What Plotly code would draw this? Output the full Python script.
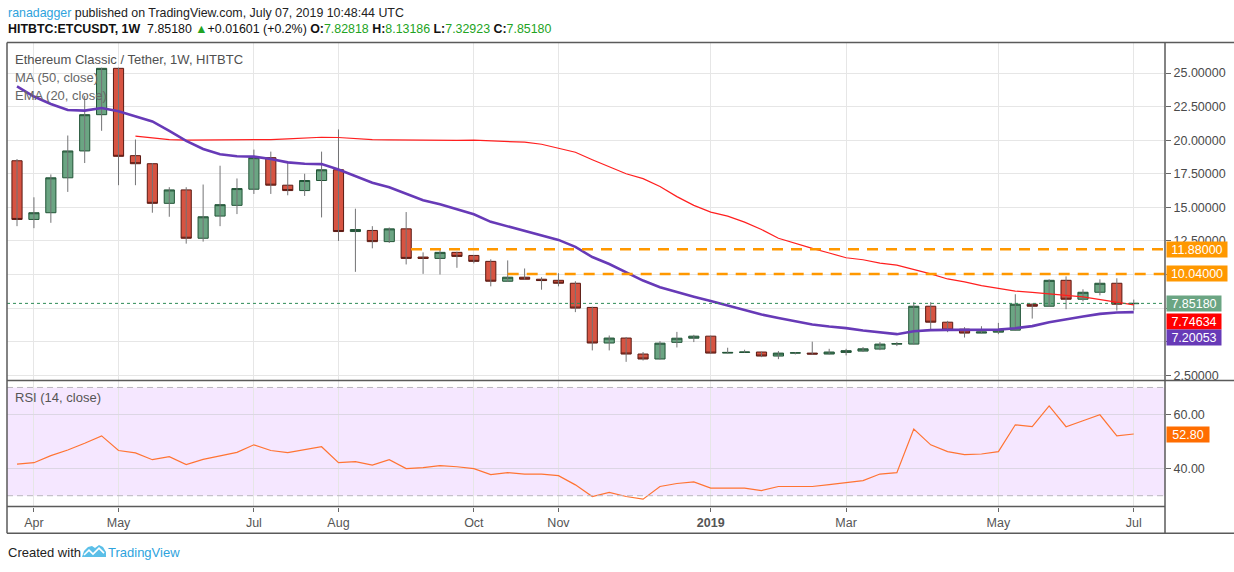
import plotly.graph_objects as go
import pandas as pd

W, H = 1234, 572

# ---------------- data ----------------
first_week = "2018-03-26"

open_ = [18.47, 14.1, 14.6, 17.2, 19.2, 21.9, 25.35, 18.85, 18.25, 15.3,
         16.3, 12.7, 14.35, 15.15, 16.35, 18.7, 16.65, 16.25, 17.0, 17.8,
         13.2, 13.28, 12.45, 13.4, 11.3, 11.2, 11.65, 11.42, 10.98, 9.5,
         9.8, 9.65, 9.57, 9.35, 7.55, 4.9, 5.27, 4.08, 3.71, 4.95,
         5.26, 5.41, 4.15, 4.2, 4.23, 3.93, 4.15, 4.15, 4.08, 4.2,
         4.3, 4.45, 4.82, 4.82, 7.64, 6.45, 5.93, 5.64, 5.71, 5.86,
         7.79, 7.64, 9.57, 8.16, 8.68, 9.35, 7.82818]
high = [18.6, 15.75, 17.45, 20.35, 23.3, 25.4, 25.4, 20.05, 18.3, 16.5,
        16.5, 16.7, 18.1, 17.15, 19.3, 19.15, 18.45, 17.5, 19.15, 20.8,
        14.9, 13.6, 13.5, 14.65, 11.65, 11.95, 11.7, 11.45, 11.13, 11.05,
        10.45, 9.8, 10.1, 9.5, 7.6, 5.46, 5.35, 4.23, 5.04, 5.73,
        5.51, 5.45, 4.55, 4.4, 4.25, 4.3, 4.23, 5.0, 4.47, 4.47,
        4.6, 4.97, 4.97, 7.94, 7.94, 6.55, 6.08, 6.15, 6.4, 8.53,
        7.85, 9.65, 9.86, 8.9, 9.64, 9.72, 8.13186]
low = [13.6, 13.45, 13.85, 16.15, 18.3, 20.7, 16.65, 16.65, 14.6, 14.3,
       12.3, 12.45, 13.6, 14.5, 16.0, 16.0, 15.9, 15.85, 14.25, 12.5,
       10.2, 11.95, 12.35, 10.75, 10.05, 10.0, 10.5, 10.83, 9.12, 9.45,
       9.6, 8.87, 9.12, 7.2, 4.35, 4.35, 3.5, 3.6, 3.68, 4.57,
       4.97, 4.1, 4.12, 4.18, 3.85, 3.7, 4.05, 4.05, 4.05, 3.98,
       4.23, 4.37, 4.67, 4.8, 5.88, 5.71, 5.31, 5.62, 5.56, 5.8,
       6.72, 7.6, 7.42, 8.0, 8.45, 7.32, 7.32923]
close = [14.1, 14.6, 17.2, 19.2, 21.9, 25.35, 18.8, 18.25, 15.3, 16.3,
         12.7, 14.3, 15.2, 16.4, 18.7, 16.65, 16.25, 17.0, 17.8, 13.2,
         13.35, 12.45, 13.4, 11.2, 11.2, 11.65, 11.35, 10.98, 9.5, 9.8,
         9.65, 9.55, 9.35, 7.5, 4.9, 5.27, 4.08, 3.71, 4.89, 5.26,
         5.41, 4.15, 4.2, 4.23, 3.93, 4.15, 4.17, 4.08, 4.23, 4.33,
         4.47, 4.82, 4.85, 7.64, 6.45, 5.86, 5.64, 5.73, 5.86, 7.79,
         7.64, 9.57, 8.16, 8.68, 9.35, 7.79, 7.8518]

ma50 = [None, None, None, None, None, None, None, 20.3, 20.15, 20.05,
        20.0, 20.0, 20.0, 20.0, 20.03, 20.05, 20.1, 20.15, 20.22, 20.2,
        20.1, 20.05, 20.02, 20.0, 20.0, 19.98, 19.98, 20.0, 19.95, 19.9,
        19.85, 19.7, 19.4, 19.1, 18.55, 18.0, 17.5, 17.14, 16.55, 15.8,
        15.15, 14.65, 14.35, 13.9, 13.35, 12.7, 12.3, 11.95, 11.6, 11.25,
        11.1, 10.85, 10.7, 10.4, 10.05, 9.67, 9.45, 9.17, 8.95, 8.77,
        8.67, 8.58, 8.45, 8.33, 8.15, 7.95, 7.74634]
ema20 = [24.0, 23.25, 22.7, 22.25, 22.2, 22.4, 22.15, 21.8, 21.4, 20.7,
         19.95, 19.35, 18.95, 18.8, 18.78, 18.6, 18.35, 18.25, 18.22, 17.82,
         17.3, 16.84, 16.5, 16.04, 15.53, 15.23, 14.86, 14.49, 13.92, 13.58,
         13.25, 12.88, 12.58, 12.06, 11.3, 10.78, 10.18, 9.55, 9.05, 8.68,
         8.35, 8.03, 7.69, 7.37, 7.02, 6.77, 6.53, 6.28, 6.13, 6.01,
         5.83, 5.68, 5.56, 5.78, 5.86, 5.88, 5.88, 5.88, 5.9, 6.0,
         6.16, 6.45, 6.68, 6.88, 7.07, 7.17, 7.20053]
rsi14 = [41.7, 42.2, 44.8, 46.9, 49.4, 52.1, 46.7, 45.8, 43.3, 44.4,
         41.5, 43.4, 44.7, 46.0, 48.8, 46.7, 45.9, 47.1, 48.1, 42.2,
         42.6, 41.3, 43.3, 40.0, 40.4, 41.1, 40.7, 40.0, 37.8, 38.5,
         38.0, 38.0, 37.4, 34.0, 29.7, 31.2, 29.7, 28.7, 33.4, 34.5,
         35.1, 32.8, 32.8, 32.8, 31.9, 33.4, 33.4, 33.4, 34.1, 34.8,
         35.6, 38.0, 38.5, 54.6, 48.8, 46.3, 45.2, 45.4, 46.3, 56.2,
         55.5, 63.2, 55.5, 57.7, 59.9, 52.1, 52.8]

month_ticks = ["2018-04-02", "2018-05-07", "2018-07-02", "2018-08-06", "2018-10-01",
               "2018-11-05", "2019-01-07", "2019-03-04", "2019-05-06", "2019-07-01"]
month_labels = ["Apr", "May", "Jul", "Aug", "Oct", "Nov", "2019", "Mar", "May", "Jul"]
price_ticks = [2.5, 5.0, 7.5, 10.0, 12.5, 15.0, 17.5, 20.0, 22.5, 25.0]
rsi_ticks = [40, 60]
rsi_bands = [30, 70]
resistance_levels = [11.88, 10.04]
resistance_start = ["2018-09-05", "2018-10-15"]

# ---------------- helpers ----------------
FONT = "Liberation Sans, Arial, sans-serif"
GREEN, GREEN_LN = "#6ba583", "#225437"
RED, RED_LN = "#d75442", "#5b1a13"
WICK = "#737375"
ORANGE = "#ff9800"
PURPLE = "#673ab7"
FRAME = "#5a5a5a"
GRID = "#e6e6e6"


def px(x):
    return x / W


def py(y):
    return 1 - y / H


dates = pd.date_range(first_week, periods=len(close), freq="7D")
x_lo = dates[0] - pd.Timedelta(days=4.14)
x_hi = dates[0] + pd.Timedelta(days=474.93)

fig = go.Figure()

# wicks
wx, wy = [], []
for d, lo_, hi_ in zip(dates, low, high):
    wx += [d, d, None]
    wy += [lo_, hi_, None]
fig.add_trace(go.Scatter(x=wx, y=wy, mode="lines", line=dict(color=WICK, width=1),
                         hoverinfo="skip", showlegend=False, xaxis="x", yaxis="y"))

# candle bodies
body_hi = [max(o, c) for o, c in zip(open_, close)]
body_lo = [min(o, c) for o, c in zip(open_, close)]
fig.add_trace(go.Candlestick(
    x=dates, open=open_, high=body_hi, low=body_lo, close=close,
    increasing=dict(fillcolor=GREEN, line=dict(color=GREEN_LN, width=1)),
    decreasing=dict(fillcolor=RED, line=dict(color=RED_LN, width=1)),
    whiskerwidth=0, showlegend=False, xaxis="x", yaxis="y"))

# moving averages
fig.add_trace(go.Scatter(x=dates, y=ma50, mode="lines", line=dict(color="#ff1f1f", width=1.2),
                         showlegend=False, xaxis="x", yaxis="y"))
fig.add_trace(go.Scatter(x=dates, y=ema20, mode="lines", line=dict(color=PURPLE, width=2.6),
                         showlegend=False, xaxis="x", yaxis="y"))

# resistance lines
for lvl, st in zip(resistance_levels, resistance_start):
    fig.add_trace(go.Scatter(x=[st, x_hi], y=[lvl, lvl], mode="lines",
                             line=dict(color=ORANGE, width=2.6, dash="11px,8px"),
                             showlegend=False, xaxis="x", yaxis="y"))

# last close dotted line
fig.add_trace(go.Scatter(x=[x_lo, x_hi], y=[close[-1], close[-1]], mode="lines",
                         line=dict(color="#2e8b57", width=1, dash="dot"),
                         showlegend=False, xaxis="x", yaxis="y"))

# RSI
fig.add_trace(go.Scatter(x=dates, y=rsi14, mode="lines", line=dict(color="#ff7433", width=1.2),
                         showlegend=False, xaxis="x2", yaxis="y2"))

# price tick labels hidden behind the value boxes in the reference
hidden = {10.0, 7.5, 5.0}
price_text = ["" if t in hidden else "%.5f" % t for t in price_ticks]

xdom = [px(7), px(1165)]
fig.update_layout(
    width=W, height=H,
    margin=dict(l=0, r=0, t=0, b=0),
    paper_bgcolor="white", plot_bgcolor="white",
    font=dict(family=FONT, size=12, color="#4a4a4a"),
    boxgap=0.4, boxgroupgap=0,
    hovermode=False,
    xaxis=dict(domain=xdom, range=[x_lo, x_hi], type="date", anchor="y",
               tickvals=month_ticks, showticklabels=False, ticks="",
               showgrid=True, gridcolor=GRID, gridwidth=1, zeroline=False,
               showline=False, rangeslider=dict(visible=False), fixedrange=True),
    yaxis=dict(domain=[py(381.7), py(42.7)], range=[2.12, 27.27], side="right", anchor="x",
               tickvals=price_ticks, ticktext=price_text, ticks="outside", ticklen=5,
               tickcolor="#666", tickfont=dict(size=12.5, color="#4a4a4a"),
               showgrid=True, gridcolor=GRID, zeroline=False, showline=False),
    xaxis2=dict(domain=xdom, range=[x_lo, x_hi], type="date", anchor="y2",
                tickvals=month_ticks,
                ticktext=["<b>%s</b>" % t if t.isdigit() else t for t in month_labels],
                ticks="outside", ticklen=4, tickcolor="#666",
                tickfont=dict(size=12.5, color="#555"),
                showgrid=True, gridcolor=GRID, zeroline=False, showline=False),
    yaxis2=dict(domain=[py(508.3), py(382.3)], range=[26.0, 72.4], side="right", anchor="x2",
                tickvals=rsi_ticks, tickformat=".2f", ticks="outside", ticklen=5,
                tickcolor="#666", tickfont=dict(size=12.5, color="#4a4a4a"),
                showgrid=True, gridcolor="#dcd6e4", zeroline=False, showline=False),
)

shapes = []
# RSI band
shapes.append(dict(type="rect", xref="x2 domain", yref="y2", x0=0, x1=1,
                   y0=rsi_bands[0], y1=rsi_bands[1], fillcolor="rgba(153,21,255,0.1)",
                   line=dict(width=0), layer="below"))
for b in rsi_bands:
    shapes.append(dict(type="line", xref="x2 domain", yref="y2", x0=0, x1=1, y0=b, y1=b,
                       line=dict(color="#b9b6bf", width=1, dash="6px,4px")))
# frame
frame = [
    (7, 42.7, 1234, 42.7), (7, 42.7, 7, 535), (7, 535, 1234, 535),
    (1165, 42.7, 1165, 535), (7, 381.9, 1234, 381.9), (7, 508.3, 1165, 508.3),
]
for x0, y0, x1, y1 in frame:
    shapes.append(dict(type="line", xref="paper", yref="paper",
                       x0=px(x0), y0=py(y0), x1=px(x1), y1=py(y1),
                       line=dict(color=FRAME, width=1.5)))
# TradingView logo (approximate)
cloud = [(82, 559), (84, 553), (88, 549), (92, 548), (95, 550), (99, 547), (103, 549),
         (106, 554), (106, 559)]
path = "M " + " L ".join("%f,%f" % (px(a), py(b)) for a, b in cloud) + " Z"
shapes.append(dict(type="path", xref="paper", yref="paper", path=path,
                   fillcolor="#5bbfe8", line=dict(width=0)))
zig = [(84, 557), (89, 552), (93, 556), (99, 550), (104, 555)]
zpath = "M " + " L ".join("%f,%f" % (px(a), py(b)) for a, b in zig)
shapes.append(dict(type="path", xref="paper", yref="paper", path=zpath,
                   line=dict(color="white", width=1.6)))
fig.update_layout(shapes=shapes)

ann = []


def text(x, y, s, size=12.4, color="#333", anchor="left"):
    ann.append(dict(xref="paper", yref="paper", x=px(x), y=py(y), text=s, showarrow=False,
                    xanchor=anchor, yanchor="middle", align="left",
                    font=dict(family=FONT, size=size, color=color)))


up = "#22a322"
text(6, 13, "<span style='color:#2ea3dd'>ranadagger</span> published on TradingView.com, "
            "July 07, 2019 10:48:44 UTC", size=12.4, color="#222")
text(6, 29, "<b>HITBTC:ETCUSDT, 1W</b>  %.5f <span style='color:%s'>▲</span>+0.01601 (+0.2%%) "
            "<b>O:</b><span style='color:%s'>%.5f</span> <b>H:</b><span style='color:%s'>%.5f</span> "
            "<b>L:</b><span style='color:%s'>%.5f</span> <b>C:</b><span style='color:%s'>%.5f</span>"
     % (close[-1], up, up, open_[-1], up, high[-1], up, low[-1], up, close[-1]),
     size=12.4, color="#111")
text(13, 60, "Ethereum Classic / Tether, 1W, HITBTC", size=13, color="#505050")
text(13, 78, "MA (50, close)", size=13, color="#666")
text(13, 96, "EMA (20, close)", size=13, color="#666")
text(13, 399, "RSI (14, close)", size=13, color="#555")
text(6, 554, "Created with", size=13, color="#222")
text(106, 554, "TradingView", size=13, color="#2ea3dd")

# right-side value labels
labels = [
    (resistance_levels[0], ORANGE, 0, 57),
    (resistance_levels[1], ORANGE, 0, 57),
    (close[-1], GREEN, 0, 51),
    (ma50[-1], "#ff0000", -16.4, 51),
    (ema20[-1], PURPLE, -25.6, 51),
]
for val, col, ysh, wd in labels:
    ann.append(dict(xref="paper", yref="y", x=px(1166), y=val, yshift=ysh,
                    text="%.5f" % val, showarrow=False, xanchor="left", yanchor="middle",
                    bgcolor=col, borderpad=1.5, width=wd, height=12, align="center",
                    font=dict(family=FONT, size=12.5, color="white")))
ann.append(dict(xref="paper", yref="y2", x=px(1166), y=rsi14[-1],
                text="%.2f" % rsi14[-1], showarrow=False, xanchor="left", yanchor="middle",
                bgcolor="#ff6d00", borderpad=1.5, width=39, height=12, align="center",
                font=dict(family=FONT, size=12.5, color="white")))
fig.update_layout(annotations=ann)

fig.write_html("out.html", config={"displayModeBar": False},
               post_script="document.body.style.margin='0';document.body.style.padding='0';")
